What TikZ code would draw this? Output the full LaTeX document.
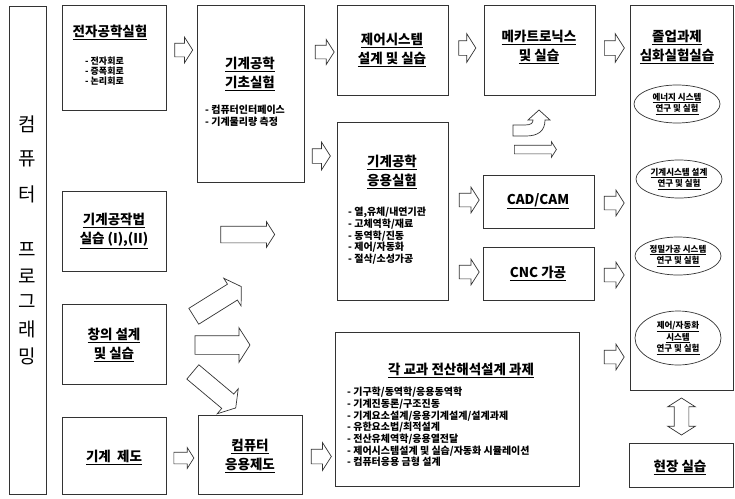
\documentclass[tikz,border=0pt]{standalone}
\usepackage{fontspec}
\setmainfont{Noto Sans CJK KR}
\usetikzlibrary{shapes.arrows,shapes.geometric}
\begin{document}
\begin{tikzpicture}[x=1pt,y=-1pt,
  box/.style={draw=black!80, line width=0.7pt, rectangle, inner sep=0pt},
  ttl/.style={font=\bfseries\fontsize{13.5}{19}\selectfont, align=center, inner sep=0pt},
  lst/.style={font=\bfseries\fontsize{10}{11.7}\selectfont, align=left, anchor=north west, inner sep=0pt},
  vch/.style={font=\fontsize{19}{19}\selectfont, inner sep=0pt},
  ell/.style={ellipse, draw=black!80, line width=0.7pt, inner sep=0pt, minimum width=86pt, minimum height=38pt, align=center, font=\bfseries\fontsize{8.5}{11.5}\selectfont},
  barrow/.style={single arrow, draw=black!80, line width=0.7pt, fill=white, inner xsep=0pt, single arrow head indent=0pt, single arrow tip angle=115},
  darrow/.style={double arrow, draw=black!80, line width=0.7pt, fill=white, inner xsep=0pt, double arrow head indent=0pt, double arrow tip angle=115}
]
\useasboundingbox (0,0) rectangle (735,498);

% left vertical bar
\node[box, minimum width=37pt, minimum height=488pt] (bar) at (27.5,250) {};
\node[vch] (v1) at (27.5,124) {컴};
\node[vch] (v2) at (27.5,159) {퓨};
\node[vch] (v3) at (27.5,194) {터};
\node[vch] (v4) at (27.5,250) {프};
\node[vch] (v5) at (27.5,276) {로};
\node[vch] (v6) at (27.5,302) {그};
\node[vch] (v7) at (27.5,329) {래};
\node[vch] (v8) at (27.5,356) {밍};

% column 1
\node[box, minimum width=104pt, minimum height=105pt] (jz) at (114,57.5) {};
\node[ttl] (jzt) at (110,32) {\underline{전자공학실험}};
\node[lst, font=\bfseries\fontsize{9}{9.8}\selectfont] (jzl) at (85,57) {- 전자회로\\- 증폭회로\\- 논리회로};

\node[box, minimum width=104pt, minimum height=80pt] (gj) at (114,231) {};
\node[ttl] (gjt) at (114,231) {\underline{기계공작법}\\\underline{실습 (I),(II)}};

\node[box, minimum width=104pt, minimum height=80pt] (cu) at (114,344) {};
\node[ttl] (cut) at (114,345) {\underline{창의 설계}\\\underline{및 실습}};

\node[box, minimum width=104pt, minimum height=77pt] (jd) at (114,455.5) {};
\node[ttl] (jdt) at (114,457) {\underline{기계\ \ 제도}};

% column 2
\node[box, minimum width=107pt, minimum height=177pt] (gc) at (250.5,93.5) {};
\node[ttl] (gct) at (250,74) {\underline{기계공학}\\\underline{기초실험}};
\node[lst] (gcl) at (205,105) {- 컴퓨터인터페이스\\- 기계물리량 측정};

\node[box, minimum width=104pt, minimum height=79pt] (cd) at (250,454.5) {};
\node[ttl] (cdt) at (250,456) {\underline{컴퓨터}\\\underline{응용제도}};

% column 3
\node[box, minimum width=111pt, minimum height=90pt] (je) at (392.5,50) {};
\node[ttl] (jet) at (392,50) {\underline{제어시스템}\\\underline{설계 및 실습}};

\node[box, minimum width=111pt, minimum height=178pt] (ey) at (392.5,211) {};
\node[ttl] (eyt) at (392,172) {\underline{기계공학}\\\underline{응용실험}};
\node[lst] (eyl) at (348,207) {- 열,유체/내연기관\\- 고체역학/재료\\- 동역학/진동\\- 제어/자동화\\- 절삭/소성가공};

\node[box, minimum width=244pt, minimum height=154pt] (gk) at (457,409) {};
\node[ttl] (gkt) at (461,370) {\underline{각 교과 전산해석설계 과제}};
\node[lst] (gkl) at (347,387) {- 기구학/동역학/응용동역학\\- 기계진동론/구조진동\\- 기계요소설계/응용기계설계/설계과제\\- 유한요소법/최적설계\\- 전산유체역학/응용열전달\\- 제어시스템설계 및 실습/자동화 시뮬레이션\\- 컴퓨터응용 금형 설계};

% column 4
\node[box, minimum width=111pt, minimum height=90pt] (mk) at (539.5,50) {};
\node[ttl] (mkt) at (539,47) {\underline{메카트로닉스}\\\underline{및 실습}};

\node[box, minimum width=111pt, minimum height=53pt] (cc) at (538.5,201.5) {};
\node[ttl] (cct) at (538,201) {\underline{CAD/CAM}};

\node[box, minimum width=111pt, minimum height=53pt] (cn) at (538.5,273.5) {};
\node[ttl] (cnt) at (538,273) {\underline{CNC 가공}};

% column 5
\node[box, minimum width=103pt, minimum height=385pt] (jo) at (681.5,197.5) {};
\node[ttl] (jot) at (677,47) {\underline{졸업과제}\\\underline{심화실험실습}};
\node[ell] (e1) at (677,104) {\underline{에너지 시스템}\\\underline{연구 및 실험}};
\node[ell] (e2) at (679,179) {\underline{기계시스템 설계}\\\underline{연구 및 실험}};
\node[ell] (e3) at (678,256) {\underline{정밀가공 시스템}\\\underline{연구 및 실험}};
\node[ell, minimum height=54pt] (e4) at (678,338) {\underline{제어/자동화}\\\underline{시스템}\\\underline{연구 및 실험}};

\node[box, minimum width=104pt, minimum height=44pt] (hj) at (681,465) {};
\node[ttl] (hjt) at (680,467) {\underline{현장 실습}};

% block arrows (length = minimum height, shaft = 2 inner ysep, head = shaft + 2 extend)
\node[barrow, minimum height=18pt, inner ysep=6.5pt, single arrow head extend=6pt] (a1) at (181.5,50) {};
\node[barrow, minimum height=19pt, inner ysep=6.5pt, single arrow head extend=5.5pt] (a2) at (322.5,52) {};
\node[barrow, minimum height=17pt, inner ysep=7pt, single arrow head extend=7pt] (a3) at (465,48) {};
\node[barrow, minimum height=20pt, inner ysep=7pt, single arrow head extend=7pt] (a4) at (612,48) {};
\node[barrow, minimum height=18pt, inner ysep=7pt, single arrow head extend=6.5pt] (a5) at (319,156) {};
\node[barrow, minimum height=20pt, inner ysep=6.5pt, single arrow head extend=6pt] (a6) at (467,200) {};
\node[barrow, minimum height=20pt, inner ysep=6.5pt, single arrow head extend=6pt] (a7) at (467,272) {};
\node[barrow, minimum height=20pt, inner ysep=6.5pt, single arrow head extend=6pt] (a8) at (612,203) {};
\node[barrow, minimum height=20pt, inner ysep=6.5pt, single arrow head extend=6pt] (a9) at (612,275) {};
\node[barrow, minimum height=20pt, inner ysep=6.5pt, single arrow head extend=6pt] (a10) at (612,357) {};
\node[barrow, minimum height=20pt, inner ysep=7pt, single arrow head extend=6.5pt] (a11) at (319,456.5) {};
\node[barrow, minimum height=20pt, inner ysep=5.5pt, single arrow head extend=4.5pt] (a12) at (182,458) {};

\node[barrow, minimum height=54pt, inner ysep=8pt, single arrow head extend=4.5pt] (h1) at (245,234.5) {};
\node[barrow, rotate=32, minimum height=56pt, inner ysep=9pt, single arrow head extend=7pt] (d1) at (215,303) {};
\node[barrow, minimum height=55pt, inner ysep=9pt, single arrow head extend=8pt] (d2) at (219.5,345) {};
\node[barrow, rotate=-40, minimum height=56pt, inner ysep=9pt, single arrow head extend=7pt] (d3) at (212,388) {};

\node[barrow, minimum height=42pt, inner ysep=4pt, single arrow head extend=3.5pt] (sa) at (534,149.5) {};
\draw[draw=black!80, line width=0.7pt, fill=white]
  (513,125) -- (525,125) .. controls (531,125) and (533,123) .. (533,120)
  -- (528,120) -- (539,110) -- (550,120) -- (545,120)
  .. controls (545,131) and (538,136) .. (526,136) -- (513,136) -- cycle;

\node[darrow, rotate=90, minimum height=37pt, inner ysep=7pt, double arrow head extend=6.5pt] (dv) at (681.5,416.5) {};
\end{tikzpicture}
\end{document}
